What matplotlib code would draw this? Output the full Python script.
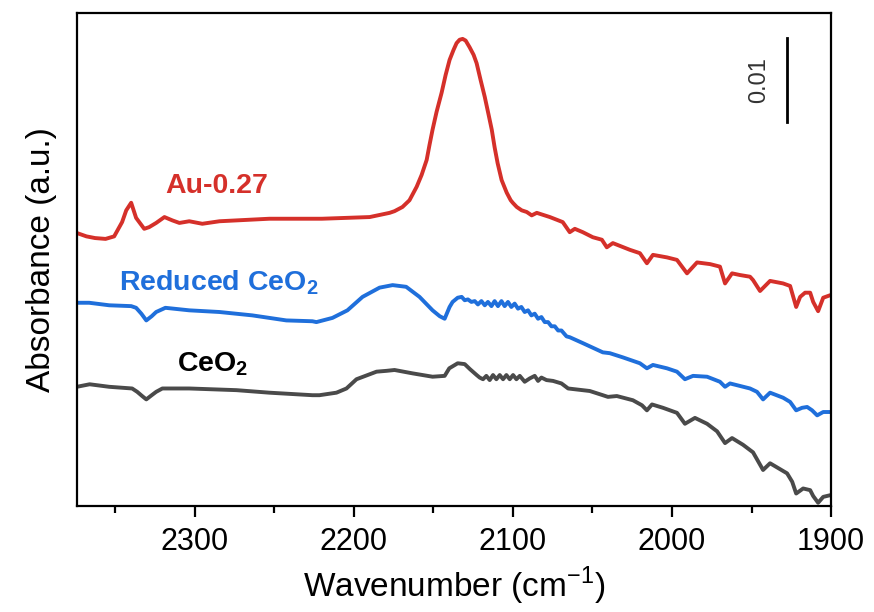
import numpy as np
import matplotlib
matplotlib.use("Agg")
import matplotlib.pyplot as plt
from matplotlib.ticker import MultipleLocator

plt.rcParams['font.family'] = ['Liberation Sans', 'DejaVu Sans']
plt.rcParams['mathtext.fontset'] = 'custom'
plt.rcParams['mathtext.rm'] = 'Liberation Sans'
plt.rcParams['mathtext.bf'] = 'Liberation Sans:bold'

# DRIFTS spectra after CO adsorption (absorbance in mAbs, stacked offsets included)
au_wn = [2374, 2368, 2362.6, 2356, 2350.6, 2345.6, 2343, 2339.9, 2336.8, 2331.7,
         2328.6, 2324.2, 2319, 2314, 2309.6, 2303.4, 2295.2, 2284.4, 2253, 2220,
         2190, 2177.5, 2174.4, 2169.4, 2165.0, 2160.5, 2157.4, 2154.2, 2152.4, 2150.5,
         2148.0, 2144.8, 2142.3, 2139.8, 2137.3, 2135.4, 2133.5, 2131.6, 2129.7, 2127.2,
         2124.7, 2122.8, 2120.3, 2117.7, 2115.2, 2113.3, 2111.5, 2109.6, 2107.1, 2103.9,
         2101.4, 2100.1, 2097.6, 2094.5, 2091.3, 2088.2, 2085.0, 2076.8, 2068.7, 2064.3,
         2061.1, 2056.1, 2049.8, 2044.1, 2041.0, 2037.2, 2026.5, 2020.2, 2015.8, 2012.0,
         2003.2, 1996.9, 1990.6, 1984.3, 1976.1, 1969.9, 1966.7, 1962.3, 1957.3, 1951.0,
         1949.1, 1944.7, 1938.4, 1930.2, 1925.8, 1922.0, 1919.5, 1916.4, 1913.2, 1911.3,
         1908.2, 1905.0, 1900.6]
au_mabs = [32.5, 32.1, 31.9, 31.8, 32.1, 33.8, 35.2, 36.1, 34.3, 33.0,
           33.2, 33.7, 34.4, 34.0, 33.7, 33.9, 33.6, 33.9, 34.2, 34.2,
           34.4, 34.9, 35.1, 35.6, 36.4, 38.0, 39.4, 41.2, 43.0, 44.8,
           46.9, 49.2, 51.3, 53.1, 54.3, 55.1, 55.5, 55.6, 55.4, 54.6,
           53.7, 52.7, 50.7, 48.7, 46.5, 44.8, 42.7, 40.8, 38.8, 37.3,
           36.4, 36.1, 35.6, 35.2, 35.0, 34.6, 34.9, 34.4, 33.8, 32.6,
           33.0, 32.6, 32.0, 31.7, 30.8, 31.3, 30.5, 30.1, 28.9, 29.9,
           29.6, 29.3, 27.7, 29.0, 28.8, 28.5, 26.5, 27.7, 27.5, 27.3,
           26.9, 25.6, 26.8, 26.5, 26.2, 23.7, 24.9, 25.4, 25.4, 24.3,
           23.2, 24.8, 25.1]

red_wn = [2374, 2366.3, 2353.7, 2339.9, 2336.8, 2333.5, 2330.4, 2327, 2324.2, 2318.4,
          2303.4, 2284.4, 2263.8, 2242.4, 2226.0, 2223.5, 2213.4, 2204, 2194.5, 2183.8,
          2175.6, 2167.1, 2158.7, 2150.5, 2146, 2142.9, 2139.8, 2137.9, 2134.7, 2132.2,
          2130.3, 2128.3, 2126.1, 2124.0, 2122.0, 2119.8, 2117.7, 2115.7, 2113.5, 2111.5,
          2109.4, 2107.2, 2105.2, 2103.1, 2101.0, 2098.9, 2096.8, 2094.7, 2092.6, 2090.5,
          2088.4, 2086.3, 2084.2, 2082.1, 2080.0, 2077.9, 2075.8, 2073.7, 2071.6, 2069.5,
          2066.3, 2064.3, 2056.1, 2043.5, 2039.1, 2030.9, 2020.2, 2015.8, 2012.0, 2003.2,
          1996.9, 1991.9, 1986.8, 1978.0, 1969.9, 1966.7, 1963.6, 1951.0, 1946.6, 1942.8,
          1938.4, 1930.2, 1925.8, 1922.0, 1918.3, 1915.1, 1912.0, 1908.8, 1905.0, 1900.6]
red_mabs = [24.2, 24.2, 23.9, 23.8, 23.6, 22.9, 22.1, 22.6, 23.1, 23.6,
            23.3, 23.1, 22.7, 22.1, 22.0, 21.9, 22.4, 23.3, 24.9, 26.0,
            26.3, 26.1, 24.9, 23.3, 22.6, 22.3, 23.7, 24.3, 24.8, 24.9,
            24.5, 24.6, 24.3, 24.4, 24.0, 24.4, 23.9, 24.3, 23.8, 24.4,
            23.8, 24.4, 23.8, 24.3, 23.7, 24.1, 23.5, 23.7, 23.1, 23.3,
            22.7, 22.9, 22.3, 22.5, 21.9, 21.9, 21.4, 21.4, 20.9, 20.9,
            20.2, 20.1, 19.4, 18.3, 18.2, 17.7, 17.0, 16.4, 16.8, 16.4,
            16.0, 15.1, 15.5, 15.4, 14.8, 14.2, 14.6, 14.0, 13.6, 12.7,
            13.5, 12.9, 12.4, 11.4, 11.7, 11.8, 11.4, 10.8, 11.2, 11.2]

ceo2_wn = [2374, 2366, 2353.7, 2339.3, 2336.1, 2333, 2330.4, 2327, 2324.2, 2320.3,
           2303.4, 2273.7, 2253.1, 2226, 2221.6, 2210.9, 2204.6, 2198.3, 2185.7, 2179.4,
           2174.4, 2163.1, 2150.5, 2142.9, 2140, 2134.7, 2130.3, 2127, 2122.8, 2120.9,
           2118.8, 2116.7, 2114.6, 2112.5, 2110.4, 2108.3, 2106.2, 2104.1, 2102.0, 2099.9,
           2097.8, 2095.7, 2092.6, 2089.4, 2086.3, 2084.2, 2082.1, 2078.9, 2074.8, 2069.5,
           2065.3, 2051.7, 2043.5, 2040.3, 2034.7, 2024.6, 2018.9, 2015.8, 2012.6, 2005.7,
           1996.9, 1991.9, 1985.6, 1978.0, 1971.7, 1966.7, 1962.3, 1955.4, 1949.1, 1942.8,
           1938.4, 1927.7, 1924.5, 1922.0, 1917.6, 1913.2, 1911.3, 1908.2, 1905.0, 1900.6]
ceo2_mabs = [14.2, 14.5, 14.2, 14.0, 13.6, 13.1, 12.7, 13.2, 13.6, 14.0,
             14.0, 13.8, 13.5, 13.2, 13.2, 13.5, 14.0, 15.1, 16.0, 16.1,
             16.2, 15.8, 15.4, 15.5, 16.4, 17.0, 16.9, 16.3, 15.6, 15.3,
             15.1, 15.5, 15.0, 15.6, 15.1, 15.6, 15.1, 15.6, 15.1, 15.6,
             15.1, 15.5, 14.8, 15.2, 15.5, 14.9, 15.3, 15.0, 14.9, 14.6,
             14.0, 13.7, 13.2, 13.0, 13.1, 12.6, 12.0, 11.4, 12.1, 11.7,
             11.1, 9.8, 10.5, 9.8, 8.9, 7.5, 8.1, 7.3, 6.4, 4.3,
             5.1, 3.9, 2.9, 1.5, 2.1, 1.9, 1.2, 0.4, 1.1, 1.3]

series = [
    ("Au-0.27", au_wn, au_mabs, "#d5302a", "#d5302a", 2286, 38.1),
    (r"Reduced CeO$_\mathbf{2}$", red_wn, red_mabs, "#1f6fdb", "#1f6fdb", 2285, 26.6),
    (r"CeO$_\mathbf{2}$", ceo2_wn, ceo2_mabs, "#4a4a4a", "#000000", 2289, 16.9),
]

scale_bar = 0.01  # absorbance units

fig = plt.figure(figsize=(8.74, 6.12), dpi=100)
ax = fig.add_axes([0.088, 0.173, 0.863, 0.806])

for label, wn, mabs, lc, tc, lx, ly in series:
    ax.plot(wn, np.asarray(mabs) / 1000.0, color=lc, lw=2.8,
            solid_joinstyle='round', solid_capstyle='round')
    ax.text(lx, ly / 1000.0, label, color=tc, fontsize=20.5,
            fontweight='bold', ha='center', va='center')

# scale bar
bar_x = 1927.7
bar_top = 0.0557
ax.plot([bar_x, bar_x], [bar_top - scale_bar, bar_top], color='black', lw=2.0)
ax.text(1945, bar_top - scale_bar / 2, f"{scale_bar:.2f}", rotation=90,
        ha='center', va='center', fontsize=17, color='#333333')

ax.set_xlim(2374, 1900)
ax.set_ylim(0, 0.0587)
ax.xaxis.set_major_locator(MultipleLocator(100))
ax.xaxis.set_minor_locator(MultipleLocator(50))
ax.set_yticks([])
ax.tick_params(axis='x', which='major', direction='out', length=8, width=1.6,
               labelsize=22, pad=7)
ax.tick_params(axis='x', which='minor', direction='out', length=5, width=1.6)
for s in ax.spines.values():
    s.set_linewidth(1.6)

ax.set_xlabel("Wavenumber (cm$^{-1}$)", fontsize=24, labelpad=6)
ax.set_ylabel("Absorbance (a.u.)", fontsize=24, labelpad=14)

fig.savefig("out.png", dpi=100)
